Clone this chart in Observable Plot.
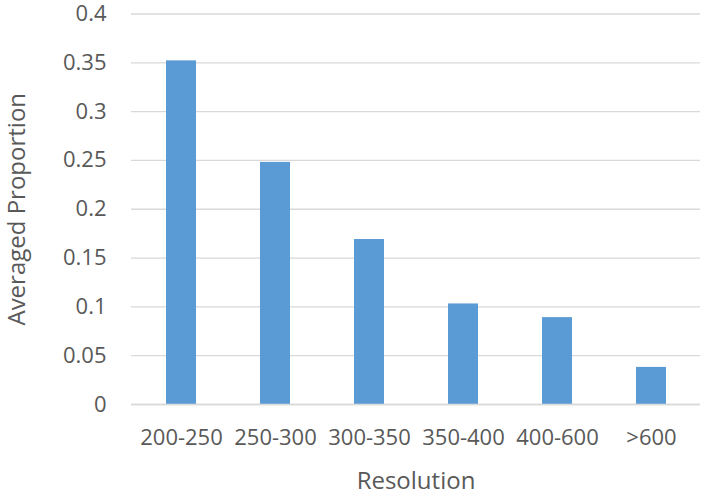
<!DOCTYPE html>
<html>
<head>
<meta charset="utf-8">
<script src="https://cdn.jsdelivr.net/npm/d3@7"></script>
<script src="https://cdn.jsdelivr.net/npm/@observablehq/plot@0.6"></script>
<style>
  html, body { margin: 0; padding: 0; background: #fff; }
  #chart svg { display: block; }
</style>
</head>
<body>
<div id="chart"></div>
<script>
const categories = ["200-250", "250-300", "300-350", "350-400", "400-600", ">600"];
const values = [0.352, 0.248, 0.169, 0.103, 0.089, 0.038];
const yTicks = [0, 0.05, 0.1, 0.15, 0.2, 0.25, 0.3, 0.35, 0.4];
const yTickLabels = ["0", "0.05", "0.1", "0.15", "0.2", "0.25", "0.3", "0.35", "0.4"];
const xTitle = "Resolution";
const yTitle = "Averaged Proportion";

const data = categories.map((c, i) => ({category: c, value: values[i]}));

const chart = Plot.plot({
  width: 707,
  height: 497,
  marginLeft: 131,
  marginRight: 7,
  marginTop: 13.5,
  marginBottom: 93,
  style: {fontFamily: "'Open Sans', sans-serif", color: "#595959", background: "#fff", overflow: "visible"},
  x: {domain: categories, paddingInner: 0.684, paddingOuter: 0.342},
  y: {domain: [0, 0.4]},
  marks: [
    Plot.gridY(yTicks, {stroke: "#d9d9d9", strokeOpacity: 1, strokeWidth: 1.3}),
    Plot.barY(data, {x: "category", y: "value", fill: "#5B9BD5"}),
    Plot.ruleY([0], {stroke: "#d9d9d9", strokeWidth: 1.5}),
    Plot.axisY(yTicks, {
      tickSize: 0, tickPadding: 25, fontSize: 22, fill: "#595959",
      tickFormat: d => yTickLabels[yTicks.indexOf(d)],
      label: yTitle, labelAnchor: "center", labelOffset: 124
    }),
    Plot.axisX({
      tickSize: 0, tickPadding: 25, fontSize: 22, fill: "#595959",
      label: xTitle, labelAnchor: "center", labelOffset: 84
    })
  ]
});
// enlarge axis titles, strip the automatic arrows
chart.querySelectorAll("g[aria-label='y-axis label'], g[aria-label='x-axis label']").forEach(g => {
  g.setAttribute("font-size", "24");
  g.querySelectorAll("text").forEach(t => {
    t.textContent = t.textContent.replace(/[\u2190-\u2193]/g, "").trim();
  });
});
document.getElementById("chart").appendChild(chart);
</script>
</body>
</html>
